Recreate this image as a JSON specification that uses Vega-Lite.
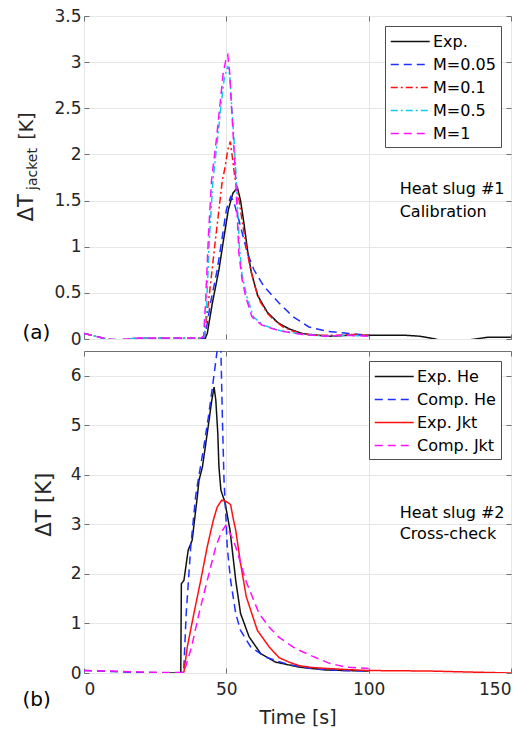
{
  "$schema": "https://vega.github.io/schema/vega-lite/v6.json",
  "padding": {"left": 15, "top": 6, "right": 0, "bottom": 0},
  "spacing": 12,
  "bounds": "flush",
  "config": {
    "font": "DejaVu Sans",
    "view": {"stroke": "#707070", "strokeWidth": 1},
    "axis": {"domain": false, "grid": true, "gridColor": "#e6e6e6", "tickColor": "#707070", "tickSize": -5, "labelFontSize": 17, "labelColor": "#262626", "labelPadding": 8, "titleFontSize": 19, "titleFontWeight": "normal", "titleColor": "#262626", "labelFont": "DejaVu Sans", "titleFont": "DejaVu Sans"},
    "legend": {"title": null, "orient": "top-right", "offset": 10, "symbolType": "M-1,0H3", "symbolSize": 380, "symbolStrokeWidth": 1.5, "labelFontSize": 16, "labelFont": "DejaVu Sans", "labelColor": "#000000", "strokeColor": "#4d4d4d", "fillColor": "#ffffff", "padding": 5, "labelOffset": 22, "rowPadding": 4, "cornerRadius": 0}
  },
  "datasets": {
    "top": [
      {"s": "Exp.", "t": 40, "v": 0}, {"s": "Exp.", "t": 42.5, "v": 0}, {"s": "Exp.", "t": 43.3, "v": 0.06}, {"s": "Exp.", "t": 45.1, "v": 0.39}, {"s": "Exp.", "t": 47.4, "v": 0.75}, {"s": "Exp.", "t": 49.2, "v": 1.11}, {"s": "Exp.", "t": 50.7, "v": 1.4}, {"s": "Exp.", "t": 52.3, "v": 1.58}, {"s": "Exp.", "t": 53.9, "v": 1.64}, {"s": "Exp.", "t": 55, "v": 1.5}, {"s": "Exp.", "t": 56.2, "v": 1.25}, {"s": "Exp.", "t": 57.5, "v": 0.95}, {"s": "Exp.", "t": 58.8, "v": 0.72}, {"s": "Exp.", "t": 61, "v": 0.47}, {"s": "Exp.", "t": 64.4, "v": 0.29}, {"s": "Exp.", "t": 68, "v": 0.18}, {"s": "Exp.", "t": 72, "v": 0.11}, {"s": "Exp.", "t": 76.6, "v": 0.06}, {"s": "Exp.", "t": 79, "v": 0.05}, {"s": "Exp.", "t": 86, "v": 0.03}, {"s": "Exp.", "t": 93, "v": 0.04}, {"s": "Exp.", "t": 100, "v": 0.04}, {"s": "Exp.", "t": 113, "v": 0.04}, {"s": "Exp.", "t": 118, "v": 0.03}, {"s": "Exp.", "t": 123.5, "v": 0.0}, {"s": "Exp.", "t": 126, "v": -0.02}, {"s": "Exp.", "t": 133, "v": -0.02}, {"s": "Exp.", "t": 137.6, "v": 0.0}, {"s": "Exp.", "t": 142, "v": 0.02}, {"s": "Exp.", "t": 150, "v": 0.02},
      {"s": "M=0.05", "t": 0, "v": 0.06}, {"s": "M=0.05", "t": 4, "v": 0.03}, {"s": "M=0.05", "t": 8, "v": 0.0}, {"s": "M=0.05", "t": 12, "v": -0.01}, {"s": "M=0.05", "t": 20, "v": 0.005}, {"s": "M=0.05", "t": 30, "v": 0.005}, {"s": "M=0.05", "t": 40, "v": 0.005}, {"s": "M=0.05", "t": 42, "v": 0.01}, {"s": "M=0.05", "t": 42.7, "v": 0.06}, {"s": "M=0.05", "t": 44.5, "v": 0.4}, {"s": "M=0.05", "t": 46.8, "v": 0.75}, {"s": "M=0.05", "t": 48.6, "v": 1.11}, {"s": "M=0.05", "t": 50, "v": 1.4}, {"s": "M=0.05", "t": 51.5, "v": 1.54}, {"s": "M=0.05", "t": 52.5, "v": 1.5}, {"s": "M=0.05", "t": 54.4, "v": 1.29}, {"s": "M=0.05", "t": 57.4, "v": 0.93}, {"s": "M=0.05", "t": 59.7, "v": 0.75}, {"s": "M=0.05", "t": 63.2, "v": 0.57}, {"s": "M=0.05", "t": 68.5, "v": 0.39}, {"s": "M=0.05", "t": 73.5, "v": 0.24}, {"s": "M=0.05", "t": 79, "v": 0.13}, {"s": "M=0.05", "t": 86, "v": 0.08}, {"s": "M=0.05", "t": 93, "v": 0.06}, {"s": "M=0.05", "t": 100, "v": 0.04},
      {"s": "M=0.1", "t": 0, "v": 0.06}, {"s": "M=0.1", "t": 4, "v": 0.03}, {"s": "M=0.1", "t": 8, "v": 0.0}, {"s": "M=0.1", "t": 12, "v": -0.01}, {"s": "M=0.1", "t": 19, "v": 0.01}, {"s": "M=0.1", "t": 30, "v": 0.01}, {"s": "M=0.1", "t": 41, "v": 0.01}, {"s": "M=0.1", "t": 42.3, "v": 0.03}, {"s": "M=0.1", "t": 43.7, "v": 0.39}, {"s": "M=0.1", "t": 46.3, "v": 1.11}, {"s": "M=0.1", "t": 48.6, "v": 1.72}, {"s": "M=0.1", "t": 49.5, "v": 1.85}, {"s": "M=0.1", "t": 50.5, "v": 2.05}, {"s": "M=0.1", "t": 51.4, "v": 2.14}, {"s": "M=0.1", "t": 52.2, "v": 1.95}, {"s": "M=0.1", "t": 53, "v": 1.75}, {"s": "M=0.1", "t": 53.9, "v": 1.62}, {"s": "M=0.1", "t": 55.3, "v": 1.33}, {"s": "M=0.1", "t": 56.8, "v": 1.04}, {"s": "M=0.1", "t": 58.2, "v": 0.8}, {"s": "M=0.1", "t": 59.9, "v": 0.58}, {"s": "M=0.1", "t": 62, "v": 0.4}, {"s": "M=0.1", "t": 64.4, "v": 0.28}, {"s": "M=0.1", "t": 67, "v": 0.2}, {"s": "M=0.1", "t": 70, "v": 0.13}, {"s": "M=0.1", "t": 73, "v": 0.09}, {"s": "M=0.1", "t": 76.6, "v": 0.06}, {"s": "M=0.1", "t": 80, "v": 0.04}, {"s": "M=0.1", "t": 88, "v": 0.04}, {"s": "M=0.1", "t": 95, "v": 0.05}, {"s": "M=0.1", "t": 100, "v": 0.04},
      {"s": "M=0.5", "t": 0, "v": 0.06}, {"s": "M=0.5", "t": 4, "v": 0.03}, {"s": "M=0.5", "t": 8, "v": 0.0}, {"s": "M=0.5", "t": 12, "v": -0.01}, {"s": "M=0.5", "t": 19, "v": 0.01}, {"s": "M=0.5", "t": 30, "v": 0.01}, {"s": "M=0.5", "t": 41, "v": 0.01}, {"s": "M=0.5", "t": 42.3, "v": 0.03}, {"s": "M=0.5", "t": 43.1, "v": 0.39}, {"s": "M=0.5", "t": 44.1, "v": 1.11}, {"s": "M=0.5", "t": 45.3, "v": 1.72}, {"s": "M=0.5", "t": 46.9, "v": 2.16}, {"s": "M=0.5", "t": 48.1, "v": 2.52}, {"s": "M=0.5", "t": 49.3, "v": 2.83}, {"s": "M=0.5", "t": 50.5, "v": 2.96}, {"s": "M=0.5", "t": 51.2, "v": 2.85}, {"s": "M=0.5", "t": 51.9, "v": 2.52}, {"s": "M=0.5", "t": 52.7, "v": 2.16}, {"s": "M=0.5", "t": 53.5, "v": 1.72}, {"s": "M=0.5", "t": 54.6, "v": 1.0}, {"s": "M=0.5", "t": 55.5, "v": 0.7}, {"s": "M=0.5", "t": 57.2, "v": 0.46}, {"s": "M=0.5", "t": 59.5, "v": 0.24}, {"s": "M=0.5", "t": 63, "v": 0.15}, {"s": "M=0.5", "t": 69, "v": 0.09}, {"s": "M=0.5", "t": 77, "v": 0.05}, {"s": "M=0.5", "t": 85, "v": 0.03}, {"s": "M=0.5", "t": 92, "v": 0.04}, {"s": "M=0.5", "t": 100, "v": 0.03},
      {"s": "M=1", "t": 0, "v": 0.06}, {"s": "M=1", "t": 4, "v": 0.03}, {"s": "M=1", "t": 8, "v": 0.0}, {"s": "M=1", "t": 12, "v": -0.01}, {"s": "M=1", "t": 19, "v": 0.01}, {"s": "M=1", "t": 30, "v": 0.01}, {"s": "M=1", "t": 41, "v": 0.01}, {"s": "M=1", "t": 42.0, "v": 0.03}, {"s": "M=1", "t": 42.7, "v": 0.39}, {"s": "M=1", "t": 43.7, "v": 1.11}, {"s": "M=1", "t": 44.8, "v": 1.72}, {"s": "M=1", "t": 46.5, "v": 2.16}, {"s": "M=1", "t": 47.7, "v": 2.52}, {"s": "M=1", "t": 48.9, "v": 2.88}, {"s": "M=1", "t": 50.0, "v": 3.05}, {"s": "M=1", "t": 50.5, "v": 3.08}, {"s": "M=1", "t": 51.2, "v": 2.88}, {"s": "M=1", "t": 51.8, "v": 2.52}, {"s": "M=1", "t": 52.5, "v": 2.16}, {"s": "M=1", "t": 53.3, "v": 1.72}, {"s": "M=1", "t": 54.4, "v": 0.93}, {"s": "M=1", "t": 55.5, "v": 0.65}, {"s": "M=1", "t": 56.8, "v": 0.46}, {"s": "M=1", "t": 59, "v": 0.24}, {"s": "M=1", "t": 62.5, "v": 0.15}, {"s": "M=1", "t": 68.5, "v": 0.09}, {"s": "M=1", "t": 76.6, "v": 0.05}, {"s": "M=1", "t": 85, "v": 0.03}, {"s": "M=1", "t": 92, "v": 0.04}, {"s": "M=1", "t": 100, "v": 0.03}
    ],
    "bottom": [
      {"s": "Exp. He", "t": 30, "v": 0.0}, {"s": "Exp. He", "t": 34.0, "v": 0.0}, {"s": "Exp. He", "t": 34.2, "v": 1.8}, {"s": "Exp. He", "t": 35.1, "v": 1.87}, {"s": "Exp. He", "t": 36.6, "v": 2.48}, {"s": "Exp. He", "t": 38, "v": 2.68}, {"s": "Exp. He", "t": 39.8, "v": 3.56}, {"s": "Exp. He", "t": 40.4, "v": 3.89}, {"s": "Exp. He", "t": 41.6, "v": 4.16}, {"s": "Exp. He", "t": 43.3, "v": 4.84}, {"s": "Exp. He", "t": 44.9, "v": 5.51}, {"s": "Exp. He", "t": 45.7, "v": 5.77}, {"s": "Exp. He", "t": 46.3, "v": 5.51}, {"s": "Exp. He", "t": 47, "v": 4.84}, {"s": "Exp. He", "t": 47.4, "v": 4.16}, {"s": "Exp. He", "t": 48.1, "v": 3.69}, {"s": "Exp. He", "t": 49.5, "v": 3.45}, {"s": "Exp. He", "t": 51.3, "v": 2.88}, {"s": "Exp. He", "t": 53.3, "v": 1.87}, {"s": "Exp. He", "t": 55, "v": 1.2}, {"s": "Exp. He", "t": 58, "v": 0.73}, {"s": "Exp. He", "t": 62.1, "v": 0.39}, {"s": "Exp. He", "t": 67.3, "v": 0.22}, {"s": "Exp. He", "t": 75.5, "v": 0.12}, {"s": "Exp. He", "t": 85, "v": 0.06}, {"s": "Exp. He", "t": 100, "v": 0.04},
      {"s": "Comp. He", "t": 0, "v": 0.05}, {"s": "Comp. He", "t": 10, "v": 0.03}, {"s": "Comp. He", "t": 20, "v": 0.01}, {"s": "Comp. He", "t": 30, "v": 0.005}, {"s": "Comp. He", "t": 35.0, "v": 0.01}, {"s": "Comp. He", "t": 35.9, "v": 1.2}, {"s": "Comp. He", "t": 37.5, "v": 2.55}, {"s": "Comp. He", "t": 39.2, "v": 3.56}, {"s": "Comp. He", "t": 40.1, "v": 3.89}, {"s": "Comp. He", "t": 41.9, "v": 4.5}, {"s": "Comp. He", "t": 43.7, "v": 5.17}, {"s": "Comp. He", "t": 45.3, "v": 5.85}, {"s": "Comp. He", "t": 46.8, "v": 6.52}, {"s": "Comp. He", "t": 47.5, "v": 6.75}, {"s": "Comp. He", "t": 48.1, "v": 6.5}, {"s": "Comp. He", "t": 48.6, "v": 5.17}, {"s": "Comp. He", "t": 49.2, "v": 3.86}, {"s": "Comp. He", "t": 49.8, "v": 3.22}, {"s": "Comp. He", "t": 50.3, "v": 2.55}, {"s": "Comp. He", "t": 51.5, "v": 1.87}, {"s": "Comp. He", "t": 53.3, "v": 1.2}, {"s": "Comp. He", "t": 55, "v": 0.86}, {"s": "Comp. He", "t": 58.5, "v": 0.53}, {"s": "Comp. He", "t": 63.8, "v": 0.32}, {"s": "Comp. He", "t": 68, "v": 0.24}, {"s": "Comp. He", "t": 72, "v": 0.17}, {"s": "Comp. He", "t": 80, "v": 0.09}, {"s": "Comp. He", "t": 90, "v": 0.05}, {"s": "Comp. He", "t": 100, "v": 0.04},
      {"s": "Exp. Jkt", "t": 34, "v": 0.0}, {"s": "Exp. Jkt", "t": 35.1, "v": 0.02}, {"s": "Exp. Jkt", "t": 36.3, "v": 0.53}, {"s": "Exp. Jkt", "t": 38.6, "v": 1.2}, {"s": "Exp. Jkt", "t": 41, "v": 1.87}, {"s": "Exp. Jkt", "t": 43.3, "v": 2.55}, {"s": "Exp. Jkt", "t": 45.4, "v": 3.08}, {"s": "Exp. Jkt", "t": 46.8, "v": 3.35}, {"s": "Exp. Jkt", "t": 48.4, "v": 3.49}, {"s": "Exp. Jkt", "t": 49.5, "v": 3.47}, {"s": "Exp. Jkt", "t": 50.3, "v": 3.45}, {"s": "Exp. Jkt", "t": 51.5, "v": 3.4}, {"s": "Exp. Jkt", "t": 52.3, "v": 3.15}, {"s": "Exp. Jkt", "t": 53.3, "v": 2.88}, {"s": "Exp. Jkt", "t": 55, "v": 2.21}, {"s": "Exp. Jkt", "t": 57, "v": 1.54}, {"s": "Exp. Jkt", "t": 60.9, "v": 0.86}, {"s": "Exp. Jkt", "t": 65, "v": 0.53}, {"s": "Exp. Jkt", "t": 68.5, "v": 0.31}, {"s": "Exp. Jkt", "t": 72, "v": 0.22}, {"s": "Exp. Jkt", "t": 75.5, "v": 0.15}, {"s": "Exp. Jkt", "t": 80.2, "v": 0.11}, {"s": "Exp. Jkt", "t": 91.9, "v": 0.07}, {"s": "Exp. Jkt", "t": 100, "v": 0.05}, {"s": "Exp. Jkt", "t": 121, "v": 0.04}, {"s": "Exp. Jkt", "t": 135, "v": 0.02}, {"s": "Exp. Jkt", "t": 150, "v": 0.0},
      {"s": "Comp. Jkt", "t": 0, "v": 0.05}, {"s": "Comp. Jkt", "t": 10, "v": 0.04}, {"s": "Comp. Jkt", "t": 20, "v": 0.02}, {"s": "Comp. Jkt", "t": 30, "v": 0.01}, {"s": "Comp. Jkt", "t": 35.1, "v": 0.01}, {"s": "Comp. Jkt", "t": 37.8, "v": 0.53}, {"s": "Comp. Jkt", "t": 40.4, "v": 1.2}, {"s": "Comp. Jkt", "t": 43.3, "v": 1.87}, {"s": "Comp. Jkt", "t": 46.3, "v": 2.55}, {"s": "Comp. Jkt", "t": 48.3, "v": 2.85}, {"s": "Comp. Jkt", "t": 49.8, "v": 2.98}, {"s": "Comp. Jkt", "t": 51.5, "v": 2.8}, {"s": "Comp. Jkt", "t": 53.3, "v": 2.55}, {"s": "Comp. Jkt", "t": 56.8, "v": 1.87}, {"s": "Comp. Jkt", "t": 61.5, "v": 1.2}, {"s": "Comp. Jkt", "t": 65, "v": 0.93}, {"s": "Comp. Jkt", "t": 68.5, "v": 0.72}, {"s": "Comp. Jkt", "t": 74.4, "v": 0.49}, {"s": "Comp. Jkt", "t": 80.2, "v": 0.34}, {"s": "Comp. Jkt", "t": 86, "v": 0.2}, {"s": "Comp. Jkt", "t": 91.9, "v": 0.12}, {"s": "Comp. Jkt", "t": 100, "v": 0.09}
    ]
  },
  "resolve": {"scale": {"color": "independent", "strokeDash": "independent"}, "legend": {"color": "independent", "strokeDash": "independent"}},
  "vconcat": [
    {
      "width": 427,
      "height": 323,
      "resolve": {"axis": {"x": "independent", "y": "independent"}},
      "layer": [
        {
          "data": {"name": "top"},
          "mark": {"type": "line", "clip": true, "strokeWidth": 1.5},
          "encoding": {
            "x": {"field": "t", "type": "quantitative", "scale": {"domain": [0, 150], "nice": false}, "axis": {"orient": "bottom", "values": [0, 50, 100, 150], "labels": false, "title": null}},
            "y": {"field": "v", "type": "quantitative", "scale": {"domain": [0, 3.5], "nice": false}, "axis": {"orient": "left", "values": [0, 0.5, 1, 1.5, 2, 2.5, 3, 3.5], "format": "~g", "title": null}},
            "color": {"field": "s", "type": "nominal", "scale": {"domain": ["Exp.", "M=0.05", "M=0.1", "M=0.5", "M=1"], "range": ["#111111", "#1f2fff", "#ff1010", "#10c8f0", "#ff10ff"]}, "legend": {"title": null}},
            "strokeDash": {"field": "s", "type": "nominal", "scale": {"domain": ["Exp.", "M=0.05", "M=0.1", "M=0.5", "M=1"], "range": [[1, 0], [8, 5], [7, 3, 2, 3], [7, 3, 2, 3], [8, 5]]}, "legend": {"title": null}}
          }
        },
        {
          "data": {"values": [{}]},
          "mark": {"type": "text", "align": "left", "baseline": "middle", "fontSize": 16, "color": "#000000"},
          "encoding": {
            "x": {"datum": 110.9, "type": "quantitative", "scale": {"domain": [0, 150], "nice": false}, "axis": {"orient": "top", "values": [0, 50, 100, 150], "labels": false, "grid": false, "title": null}},
            "y": {"datum": 1.62, "type": "quantitative", "scale": {"domain": [0, 3.5], "nice": false}, "axis": {"orient": "right", "values": [0, 0.5, 1, 1.5, 2, 2.5, 3, 3.5], "labels": false, "grid": false, "title": null}},
            "text": {"value": "Heat slug #1"}
          }
        },
        {
          "data": {"values": [{}]},
          "mark": {"type": "text", "align": "left", "baseline": "middle", "fontSize": 16, "color": "#000000"},
          "encoding": {
            "x": {"datum": 110.9, "type": "quantitative", "scale": {"domain": [0, 150], "nice": false}, "axis": null},
            "y": {"datum": 1.38, "type": "quantitative", "scale": {"domain": [0, 3.5], "nice": false}, "axis": null},
            "text": {"value": "Calibration"}
          }
        },
        {
          "data": {"values": [{}]},
          "mark": {"type": "text", "align": "left", "baseline": "middle", "fontSize": 20, "color": "#000000"},
          "encoding": {
            "x": {"datum": -21.6, "type": "quantitative", "scale": {"domain": [0, 150], "nice": false}, "axis": null},
            "y": {"datum": 0.068, "type": "quantitative", "scale": {"domain": [0, 3.5], "nice": false}, "axis": null},
            "text": {"value": "(a)"}
          }
        },
        {
          "data": {"values": [{}]},
          "mark": {"type": "text", "align": "left", "baseline": "alphabetic", "angle": 270, "fontSize": 21, "color": "#262626"},
          "encoding": {
            "x": {"datum": -18.0, "type": "quantitative", "scale": {"domain": [0, 150], "nice": false}, "axis": null},
            "y": {"datum": 1.274, "type": "quantitative", "scale": {"domain": [0, 3.5], "nice": false}, "axis": null},
            "text": {"value": "ΔT"}
          }
        },
        {
          "data": {"values": [{}]},
          "mark": {"type": "text", "align": "left", "baseline": "alphabetic", "angle": 270, "fontSize": 14, "color": "#262626"},
          "encoding": {
            "x": {"datum": -16.5, "type": "quantitative", "scale": {"domain": [0, 150], "nice": false}, "axis": null},
            "y": {"datum": 1.615, "type": "quantitative", "scale": {"domain": [0, 3.5], "nice": false}, "axis": null},
            "text": {"value": "jacket"}
          }
        },
        {
          "data": {"values": [{}]},
          "mark": {"type": "text", "align": "left", "baseline": "alphabetic", "angle": 270, "fontSize": 19, "color": "#262626"},
          "encoding": {
            "x": {"datum": -18.0, "type": "quantitative", "scale": {"domain": [0, 150], "nice": false}, "axis": null},
            "y": {"datum": 2.16, "type": "quantitative", "scale": {"domain": [0, 3.5], "nice": false}, "axis": null},
            "text": {"value": "[K]"}
          }
        }
      ]
    },
    {
      "width": 427,
      "height": 322,
      "resolve": {"axis": {"x": "independent", "y": "independent"}},
      "layer": [
        {
          "data": {"name": "bottom"},
          "mark": {"type": "line", "clip": true, "strokeWidth": 1.5},
          "encoding": {
            "x": {"field": "t", "type": "quantitative", "scale": {"domain": [0, 150], "nice": false}, "axis": {"orient": "bottom", "values": [0, 50, 100, 150], "title": "Time [s]", "labelPadding": 13, "titlePadding": 11}},
            "y": {"field": "v", "type": "quantitative", "scale": {"domain": [0, 6.5], "nice": false}, "axis": {"orient": "left", "values": [0, 1, 2, 3, 4, 5, 6], "title": null}},
            "color": {"field": "s", "type": "nominal", "scale": {"domain": ["Exp. He", "Comp. He", "Exp. Jkt", "Comp. Jkt"], "range": ["#111111", "#1f2fff", "#ff1010", "#ff10ff"]}, "legend": {"title": null}},
            "strokeDash": {"field": "s", "type": "nominal", "scale": {"domain": ["Exp. He", "Comp. He", "Exp. Jkt", "Comp. Jkt"], "range": [[1, 0], [8, 5], [1, 0], [8, 5]]}, "legend": {"title": null}}
          }
        },
        {
          "data": {"values": [{}]},
          "mark": {"type": "text", "align": "left", "baseline": "middle", "fontSize": 16, "color": "#000000"},
          "encoding": {
            "x": {"datum": 110.9, "type": "quantitative", "scale": {"domain": [0, 150], "nice": false}, "axis": {"orient": "top", "values": [0, 50, 100, 150], "labels": false, "grid": false, "title": null}},
            "y": {"datum": 3.234, "type": "quantitative", "scale": {"domain": [0, 6.5], "nice": false}, "axis": {"orient": "right", "values": [0, 1, 2, 3, 4, 5, 6], "labels": false, "grid": false, "title": null}},
            "text": {"value": "Heat slug #2"}
          }
        },
        {
          "data": {"values": [{}]},
          "mark": {"type": "text", "align": "left", "baseline": "middle", "fontSize": 16, "color": "#000000"},
          "encoding": {
            "x": {"datum": 110.9, "type": "quantitative", "scale": {"domain": [0, 150], "nice": false}, "axis": null},
            "y": {"datum": 2.798, "type": "quantitative", "scale": {"domain": [0, 6.5], "nice": false}, "axis": null},
            "text": {"value": "Cross-check"}
          }
        },
        {
          "data": {"values": [{}]},
          "mark": {"type": "text", "align": "left", "baseline": "middle", "fontSize": 20, "color": "#000000"},
          "encoding": {
            "x": {"datum": -21.6, "type": "quantitative", "scale": {"domain": [0, 150], "nice": false}, "axis": null},
            "y": {"datum": -0.547, "type": "quantitative", "scale": {"domain": [0, 6.5], "nice": false}, "axis": null},
            "text": {"value": "(b)"}
          }
        },
        {
          "data": {"values": [{}]},
          "mark": {"type": "text", "align": "left", "baseline": "alphabetic", "angle": 270, "fontSize": 21, "color": "#262626"},
          "encoding": {
            "x": {"datum": -11.6, "type": "quantitative", "scale": {"domain": [0, 150], "nice": false}, "axis": null},
            "y": {"datum": 2.75, "type": "quantitative", "scale": {"domain": [0, 6.5], "nice": false}, "axis": null},
            "text": {"value": "ΔT [K]"}
          }
        }
      ]
    }
  ]
}
